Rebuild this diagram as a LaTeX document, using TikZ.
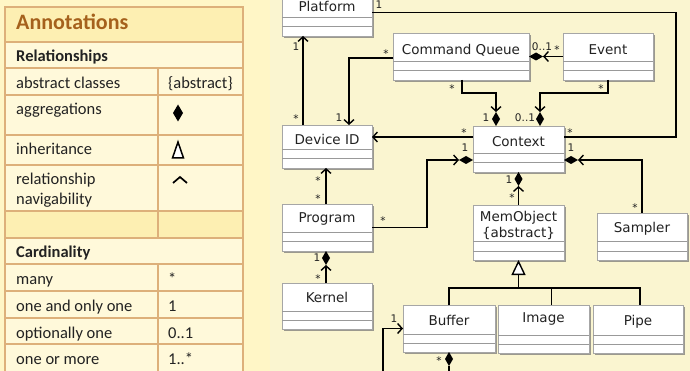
\documentclass[tikz,border=0pt]{standalone}
\usepackage{fontspec}
\setmainfont{Carlito}
\newfontfamily\umlfont{DejaVu Sans}
\usetikzlibrary{arrows.meta,shapes.geometric,calc,shadows}
\definecolor{leftbg}{HTML}{FFF6C6}
\definecolor{rightbg}{HTML}{FAF5D0}
\definecolor{cellbg}{HTML}{FFF9DA}
\definecolor{headbg}{HTML}{FDEFB2}
\definecolor{tblline}{HTML}{DDB07A}
\definecolor{titlec}{HTML}{A5611C}
\definecolor{txt}{HTML}{222222}
\tikzset{
  cls/.style={draw=black!35, line width=0.8pt, fill=white, inner sep=0pt, outer sep=0pt,
    drop shadow={shadow xshift=2pt, shadow yshift=-2pt, fill=black!55, opacity=0.7}},
  cmp/.style={draw=black!40, line width=1pt},
  clsname/.style={font=\umlfont\fontsize{13.5}{16}\selectfont, text=txt, inner sep=0pt, align=center},
  conn/.style={draw=black, line width=1.4pt},
  arrowc/.style={conn, -{Straight Barb[length=4.5pt,width=10pt,line width=1.4pt]}},
  dia/.style={diamond, fill=black, inner sep=0pt, minimum width=8pt, minimum height=14pt, outer sep=0pt},
  diah/.style={diamond, fill=black, inner sep=0pt, minimum width=14pt, minimum height=8pt, outer sep=0pt},
  lbl/.style={font=\umlfont\fontsize{10.5}{12}\selectfont, text=txt, inner sep=0pt},
  tline/.style={draw=tblline, line width=1.2pt},
  ttext/.style={font=\fontsize{16.5}{20}\selectfont, text=txt, inner sep=0pt, anchor=base west},
  tbold/.style={ttext, font=\bfseries\fontsize{16.5}{20}\selectfont},
}
\newcommand\umlcls[7]{%
  \node[cls, minimum width=#4pt, minimum height=#5pt, anchor=north west] (#1) at (#2,#3) {};
  \draw[cmp] ($(#1.south west)+(0,-18)$) -- ($(#1.south east)+(0,-18)$);
  \draw[cmp] ($(#1.south west)+(0,-9)$) -- ($(#1.south east)+(0,-9)$);
  \node[clsname, anchor=base] (#1-name) at ($(#1.north)+(0,#6)$) {#7};
}
\begin{document}
\begin{tikzpicture}[x=1pt,y=-1pt]
\useasboundingbox (0,0) rectangle (690,371);
\clip (0,0) rectangle (690,371);
\fill[leftbg] (0,0) rectangle (270,371);
\fill[rightbg] (270,0) rectangle (690,371);
% ---------- table ----------
\fill[cellbg] (5,7) rectangle (243,380);
\fill[headbg] (5,7) rectangle (243,42);
\fill[headbg] (5,211) rectangle (243,238);
\foreach \yy in {42,68,95,135,165,211,238,264,291,318,344}{\draw[tline] (5,\yy) -- (243,\yy);}
\draw[tline] (158,68) -- (158,238);
\draw[tline] (158,264) -- (158,380);
\draw[tline] (5,380) -- (5,7) -- (243,7) -- (243,380);
\node[ttext, font=\bfseries\fontsize{22}{26}\selectfont, text=titlec] (tTitle) at (16,30) {Annotations};
\node[tbold] (tRel) at (16,62) {Relationships};
\node[ttext] (tAbs) at (16,89) {abstract classes};
\node[ttext] (tAbsS) at (168,89) {\{abstract\}};
\node[ttext] (tAgg) at (16,115) {aggregations};
\node[dia, minimum width=10pt, minimum height=17pt] (tAggS) at (178,113) {};
\node[ttext] (tInh) at (16,155) {inheritance};
\draw[line width=1.5pt, fill=white, line join=miter] (178,142) -- (183.5,158) -- (172.5,158) -- cycle;
\node[ttext, align=left] (tNav) at (16,185) {relationship};
\node[ttext] (tNav2) at (16,205) {navigability};
\draw[line width=1.7pt] (173,183) -- (180,177) -- (187,183);
\node[tbold] (tCard) at (16,258) {Cardinality};
\node[ttext] (tMany) at (16,284) {many};
\node[ttext] (tManyS) at (168,284) {*};
\node[ttext] (tOne) at (16,311) {one and only one};
\node[ttext] (tOneS) at (168,311) {1};
\node[ttext] (tOpt) at (16,338) {optionally one};
\node[ttext] (tOptS) at (168,338) {0..1};
\node[ttext] (tMore) at (16,364) {one or more};
\node[ttext] (tMoreS) at (168,364) {1..*};
% ---------- classes ----------
\umlcls{plat}{282}{-8}{90}{44}{20}{Platform}
\umlcls{dev}{282}{125}{90}{43}{20}{Device ID}
\umlcls{cq}{393}{33}{136}{47}{22}{Command Queue}
\umlcls{ev}{563}{33}{90}{47}{22}{Event}
\umlcls{ctx}{473}{126}{91}{46}{21}{Context}
\umlcls{prog}{282}{204}{90}{47}{19}{Program}
\umlcls{kern}{282}{283}{90}{46}{19}{Kernel}
\umlcls{mem}{473}{205}{91}{55}{32}{MemObject\\\{abstract\}}
\umlcls{samp}{597}{213}{90}{47}{20}{Sampler}
\umlcls{buf}{403}{305}{92}{47}{20}{Buffer}
\umlcls{img}{498}{305}{91}{48}{17}{Image}
\umlcls{pipe}{593}{305}{90}{48}{20}{Pipe}
% ---------- diamonds ----------
\node[dia, anchor=south] (d4) at ($(ctx.north)+(-22.5,0)$) {};
\node[dia, anchor=south] (d6) at ($(ctx.north)+(21.5,0)$) {};
\node[diah, anchor=west] (d5) at (cq.east) {};
\node[diah, anchor=east] (d8) at ($(ctx.west)+(0,11)$) {};
\node[diah, anchor=west] (d12) at ($(ctx.east)+(0,11)$) {};
\node[dia, anchor=north] (d10) at ($(prog.south)+(-1,0)$) {};
\node[dia, anchor=north] (d11) at (ctx.south) {};
\node[dia, anchor=north] (d14) at (buf.south) {};
% ---------- connectors ----------
\draw[conn] ($(plat.east)+(0,-1.5)$) -| (676,137) -- ($(ctx.east)+(0,-12)$);
\draw[arrowc] ($(dev.north)+(-24,0)$) -- ($(plat.south)+(-24,0)$);
\draw[arrowc] ($(cq.west)+(0,1.5)$) -| ($(dev.north)+(22,0)$);
\draw[arrowc] ($(cq.south west)+(69,0)$) |- ($(d4.north)+(0,-19)$) -- (d4.north);
\draw[arrowc] (ev.west) -- (d5.east);
\draw[arrowc] (ev.south) |- ($(d6.north)+(0,-19)$) -- (d6.north);
\coordinate (c7) at ($(ctx.west)+(0,-12)$);
\draw[arrowc] (c7) -- (c7 -| dev.east);
\draw[arrowc] (prog.east) -| ($(d8.west)+(-32,0)$) -- (d8.west);
\draw[arrowc] ($(prog.north)+(-1,0)$) -- ($(dev.south)+(-1,0)$);
\draw[arrowc] ($(kern.north)+(-1,0)$) -- (d10.south);
\draw[arrowc] (mem.north) -- (d11.south);
\draw[arrowc] (samp.north) |- (d12.east);
\coordinate (jn) at ($(mem.south)+(0,28)$);
\draw[conn] (buf.north) |- ($(pipe.north)+(2,-17)$) -- ($(pipe.north)+(2,0)$);
\draw[conn] ($(img.north)+(8,0)$) -- ++(0,-17);
\draw[conn, -{Triangle[open, length=15pt, width=14pt, line width=1.4pt, fill=white]}] (jn) -- (mem.south);
\coordinate (loopa) at (383,390);
\draw[arrowc] (d14.south) |- (loopa) |- (buf.west);
% ---------- labels ----------
\node[lbl] (l1) at (379,5) {1};
\node[lbl] (l2) at (296,47) {1};
\node[lbl] (l3) at (296,119) {*};
\node[lbl] (l4) at (386,54) {*};
\node[lbl] (l5) at (339,118) {1};
\node[lbl] (l6) at (464,133) {*};
\node[lbl] (l7) at (465,148) {1};
\node[lbl] (l8) at (452,89) {*};
\node[lbl] (l9) at (486,118) {1};
\node[lbl] (l10) at (525,118) {0..1};
\node[lbl] (l11) at (601,89) {*};
\node[lbl] (l12) at (542,47) {0..1};
\node[lbl] (l13) at (557,50) {*};
\node[lbl] (l14) at (570,133) {*};
\node[lbl] (l15) at (571,148) {1};
\node[lbl] (l16) at (509,180) {1};
\node[lbl] (l17) at (512,198) {*};
\node[lbl] (l18) at (635,208) {*};
\node[lbl] (l19) at (318,181) {*};
\node[lbl] (l20) at (318,199) {*};
\node[lbl] (l21) at (383,221) {*};
\node[lbl] (l22) at (317,258) {1};
\node[lbl] (l23) at (318,279) {*};
\node[lbl] (l24) at (394,319) {1};
\node[lbl] (l25) at (439,361) {*};
\end{tikzpicture}
\end{document}
